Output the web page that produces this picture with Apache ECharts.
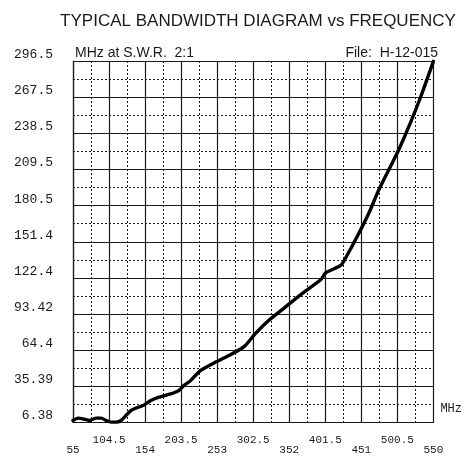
<!DOCTYPE html>
<html>
<head>
<meta charset="utf-8">
<script src="https://cdn.jsdelivr.net/npm/echarts@6/dist/echarts.min.js"></script>
<style>
    html, body { margin: 0; padding: 0; background: #fff; }
    #chart { width: 465px; height: 456px; }
</style>
</head>
<body>
<div id="chart"></div>
<script>
// frequency (MHz) vs bandwidth (MHz at SWR 2:1)
const freq = [55, 61.8, 68.6, 77.7, 86.9, 93.7, 100.5, 107.3, 114.1, 120.9, 127.7, 134.5, 141.4, 152.7, 161.8, 173.1, 189.0, 200.3, 207.1, 216.3, 229.9, 250.3, 273.0, 291.2, 304.8, 322.9, 345.7, 368.3, 395.5, 402.3, 422.8, 429.6, 445.5, 461.4, 475.1, 495.5, 502.3, 518.1, 531.7, 543.2, 550];
const bandwidth = [7.98, 9.9, 9.34, 7.98, 9.9, 9.9, 7.98, 6.7, 6.7, 7.98, 11.97, 15.97, 17.9, 20.5, 23.96, 26.7, 29.3, 31.95, 35.95, 39.9, 48.1, 54.65, 61.3, 67.9, 77.3, 87.9, 98.6, 109.2, 121.2, 126.6, 132.4, 138.6, 155.8, 174.5, 193.1, 217.1, 225.1, 246.5, 266.4, 285.1, 296.2];

const xTickLabels = ['55', '104.5', '154', '203.5', '253', '302.5', '352', '401.5', '451', '500.5', '550'];
const yTickLabels = ['6.38', '35.39', '64.4', '93.42', '122.4', '151.4', '180.5', '209.5', '238.5', '267.5', '296.5'];

const xMin = 55, xMax = 550, xStep = 49.5;
const yMin = 6.38, yMax = 296.5, yStep = 29.012;

const ink = '#1a1a1a';
const mono = '"Liberation Mono", "DejaVu Sans Mono", monospace';
const sans = '"Liberation Sans", Arial, sans-serif';

const tickIndex = (value, min, step) => Math.round((value - min) / step);

const chart = echarts.init(document.getElementById('chart'), null, { renderer: 'canvas' });

chart.setOption({
    backgroundColor: '#fff',
    animation: false,
    title: [
        {
            text: 'TYPICAL BANDWIDTH DIAGRAM vs FREQUENCY',
            left: 253, top: 8, textAlign: 'center',
            textStyle: { fontFamily: sans, fontSize: 17, fontWeight: 'normal', color: ink },
        },
        {
            text: 'MHz at S.W.R.  2:1',
            left: 70, top: 41,
            textStyle: { fontFamily: sans, fontSize: 14, fontWeight: 'normal', color: ink },
        },
        {
            text: 'File:  H-12-015',
            right: 22, top: 41,
            textStyle: { fontFamily: sans, fontSize: 14, fontWeight: 'normal', color: ink },
        },
    ],
    grid: { left: 73, right: 28, top: 61, bottom: 32 },
    xAxis: {
        type: 'value',
        min: xMin, max: xMax, interval: xStep,
        name: 'MHz',
        nameLocation: 'end',
        nameGap: 7,
        nameTextStyle: { fontFamily: mono, fontSize: 12, color: ink, verticalAlign: 'bottom', padding: [0, 0, 8, 0] },
        axisLine: { lineStyle: { color: ink, width: 1.2 } },
        axisTick: { show: false },
        axisLabel: {
            interval: 0,
            margin: 13,
            fontFamily: mono, fontSize: 11, color: ink, lineHeight: 10,
            verticalAlign: 'top',
            showMinLabel: true, showMaxLabel: true,
            formatter: (v) => {
                const i = tickIndex(v, xMin, xStep);
                const label = xTickLabels[i] ?? '';
                return i % 2 ? label : '\n' + label;
            },
        },
        splitLine: { show: true, lineStyle: { color: ink, width: 1.2 } },
        minorTick: { show: false, splitNumber: 2 },
        minorSplitLine: { show: true, lineStyle: { color: ink, width: 1, type: [2, 2] } },
    },
    yAxis: {
        type: 'value',
        min: yMin, max: yMax, interval: yStep,
        axisLine: { show: true, lineStyle: { color: ink, width: 1.2 } },
        axisTick: { show: false },
        axisLabel: {
            margin: 20,
            fontFamily: mono, fontSize: 13, color: ink,
            verticalAlign: 'bottom',
            showMinLabel: true, showMaxLabel: true,
            formatter: (v) => yTickLabels[tickIndex(v, yMin, yStep)] ?? '',
        },
        splitLine: { show: true, lineStyle: { color: ink, width: 1.2 } },
        minorTick: { show: false, splitNumber: 2 },
        minorSplitLine: { show: true, lineStyle: { color: ink, width: 1, type: [2, 2] } },
    },
    series: [{
        type: 'line',
        data: freq.map((f, i) => [f, bandwidth[i]]),
        showSymbol: false,
        smooth: 0.2,
        lineStyle: { color: '#000', width: 3.4, cap: 'round', join: 'round' },
        z: 5,
    }],
});
</script>
</body>
</html>
